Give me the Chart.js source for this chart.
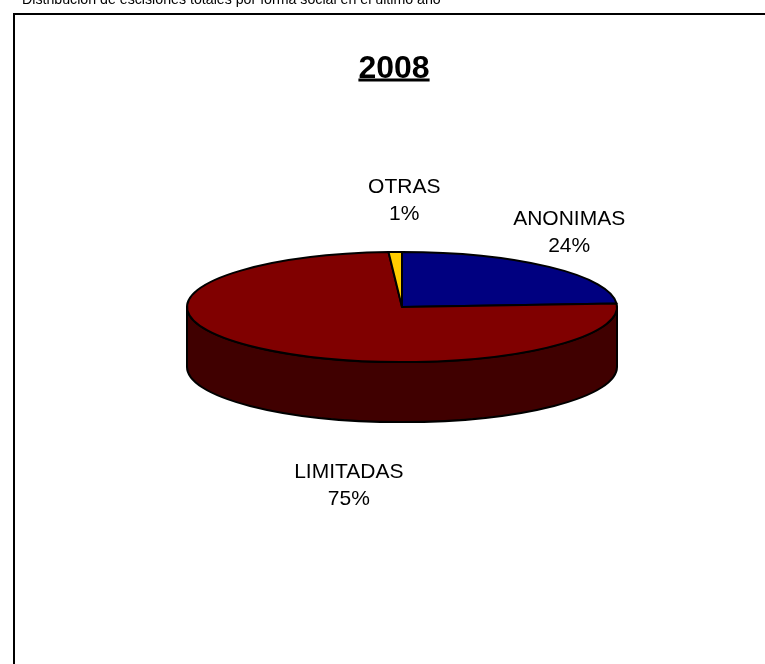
<!DOCTYPE html>
<html lang="es">
<head>
  <meta charset="UTF-8" />
  <title>Escisiones por forma social 2008</title>
  <script src="https://cdn.jsdelivr.net/npm/chart.js"></script>
  <style>
    body {
      margin: 0;
      background: #ffffff;
      font-family: Arial, "Liberation Sans", sans-serif;
    }
    #wrap {
      position: relative;
      width: 765px;
      height: 664px;
      overflow: hidden;
    }
    canvas {
      position: absolute;
      left: 0;
      top: 0;
    }
  </style>
</head>
<body>
  <div id="wrap">
    <canvas id="pieChart" width="765" height="664"></canvas>
  </div>

  <script>
    // Datos 2008
    const categorias = ['ANONIMAS', 'LIMITADAS', 'OTRAS'];
    const porcentajes = [24, 75, 1];
    const colores = ['#000080', '#800000', '#FFCC00'];
    const coloresLado = ['#000040', '#400000', '#806600'];
    const titulo = '2008';
    const subtitulo = 'Distribución de escisiones totales por forma social en el último año';

    // aspecto del pastel en 3D
    const inclinacion = 0.256;   // ry / rx
    const grosor = 60;           // altura del canto
    // desplazamiento de cada etiqueta respecto al borde de su porción
    const desplEtiquetas = [[20, -34], [89, 77], [9, -51]];

    function caraLateral(ctx, cx, cy, rx, ry, a, b, color) {
      ctx.beginPath();
      ctx.ellipse(cx, cy, rx, ry, 0, a, b, false);
      ctx.ellipse(cx, cy + grosor, rx, ry, 0, b, a, true);
      ctx.closePath();
      ctx.fillStyle = color;
      ctx.fill();
      ctx.stroke();
    }

    const pastel3d = {
      id: 'pastel3d',
      beforeDatasetsDraw(chart) {
        const ctx = chart.ctx;
        const arcos = chart.getDatasetMeta(0).data;
        ctx.save();
        ctx.lineWidth = 2;
        ctx.lineJoin = 'round';
        ctx.strokeStyle = '#000000';

        // canto delantero (solo la mitad visible, de 0 a PI)
        arcos.forEach((arco, i) => {
          const p = arco.getProps(['x', 'y', 'startAngle', 'endAngle', 'outerRadius'], true);
          const ry = p.outerRadius * inclinacion;
          for (let k = -1; k <= 1; k++) {
            const a = Math.max(p.startAngle, k * 2 * Math.PI);
            const b = Math.min(p.endAngle, k * 2 * Math.PI + Math.PI);
            if (b > a) caraLateral(ctx, p.x, p.y, p.outerRadius, ry, a, b, coloresLado[i]);
          }
        });

        // cara superior
        arcos.forEach((arco, i) => {
          const p = arco.getProps(['x', 'y', 'startAngle', 'endAngle', 'outerRadius'], true);
          const ry = p.outerRadius * inclinacion;
          ctx.beginPath();
          ctx.moveTo(p.x, p.y);
          ctx.ellipse(p.x, p.y, p.outerRadius, ry, 0, p.startAngle, p.endAngle, false);
          ctx.closePath();
          ctx.fillStyle = colores[i];
          ctx.fill();
          ctx.stroke();
        });

        // etiquetas: nombre y porcentaje
        const total = porcentajes.reduce((s, v) => s + v, 0);
        ctx.fillStyle = '#000000';
        ctx.font = '21px Arial, "Liberation Sans", sans-serif';
        ctx.textAlign = 'center';
        ctx.textBaseline = 'middle';
        arcos.forEach((arco, i) => {
          const p = arco.getProps(['x', 'y', 'startAngle', 'endAngle', 'outerRadius'], true);
          const ry = p.outerRadius * inclinacion;
          const medio = (p.startAngle + p.endAngle) / 2;
          let bx = p.x + Math.cos(medio) * p.outerRadius;
          let by = p.y + Math.sin(medio) * ry;
          if (Math.sin(medio) > 0) by += grosor;
          const lx = bx + desplEtiquetas[i][0];
          const ly = by + desplEtiquetas[i][1];
          const pct = Math.round(porcentajes[i] / total * 100) + '%';
          ctx.fillText(categorias[i], lx, ly - 13.5);
          ctx.fillText(pct, lx, ly + 13.5);
        });
        ctx.restore();
        return false;
      },
      afterDraw(chart) {
        const ctx = chart.ctx;
        ctx.save();
        // marco del gráfico
        ctx.strokeStyle = '#000000';
        ctx.lineWidth = 2;
        ctx.strokeRect(14, 14, 800, 800);

        // texto superior
        ctx.fillStyle = '#000000';
        ctx.font = '14.2px Arial, "Liberation Sans", sans-serif';
        ctx.textAlign = 'left';
        ctx.textBaseline = 'alphabetic';
        ctx.fillText(subtitulo, 22, 3.5);

        // título subrayado
        ctx.font = 'bold 32px Arial, "Liberation Sans", sans-serif';
        ctx.textAlign = 'center';
        ctx.fillText(titulo, 394, 77.5);
        const w = ctx.measureText(titulo).width;
        ctx.fillRect(394 - w / 2, 78.5, w, 3);
        ctx.restore();
      }
    };

    new Chart(document.getElementById('pieChart').getContext('2d'), {
      type: 'pie',
      data: {
        labels: categorias,
        datasets: [{
          data: porcentajes,
          backgroundColor: colores,
          borderColor: '#000000',
          borderWidth: 0,
          radius: 215
        }]
      },
      options: {
        responsive: false,
        animation: false,
        devicePixelRatio: 1,
        layout: { padding: { left: 39, right: 0, top: 0, bottom: 50 } },
        plugins: {
          legend: { display: false },
          tooltip: { enabled: false },
          title: { display: false }
        }
      },
      plugins: [pastel3d]
    });
  </script>
</body>
</html>
